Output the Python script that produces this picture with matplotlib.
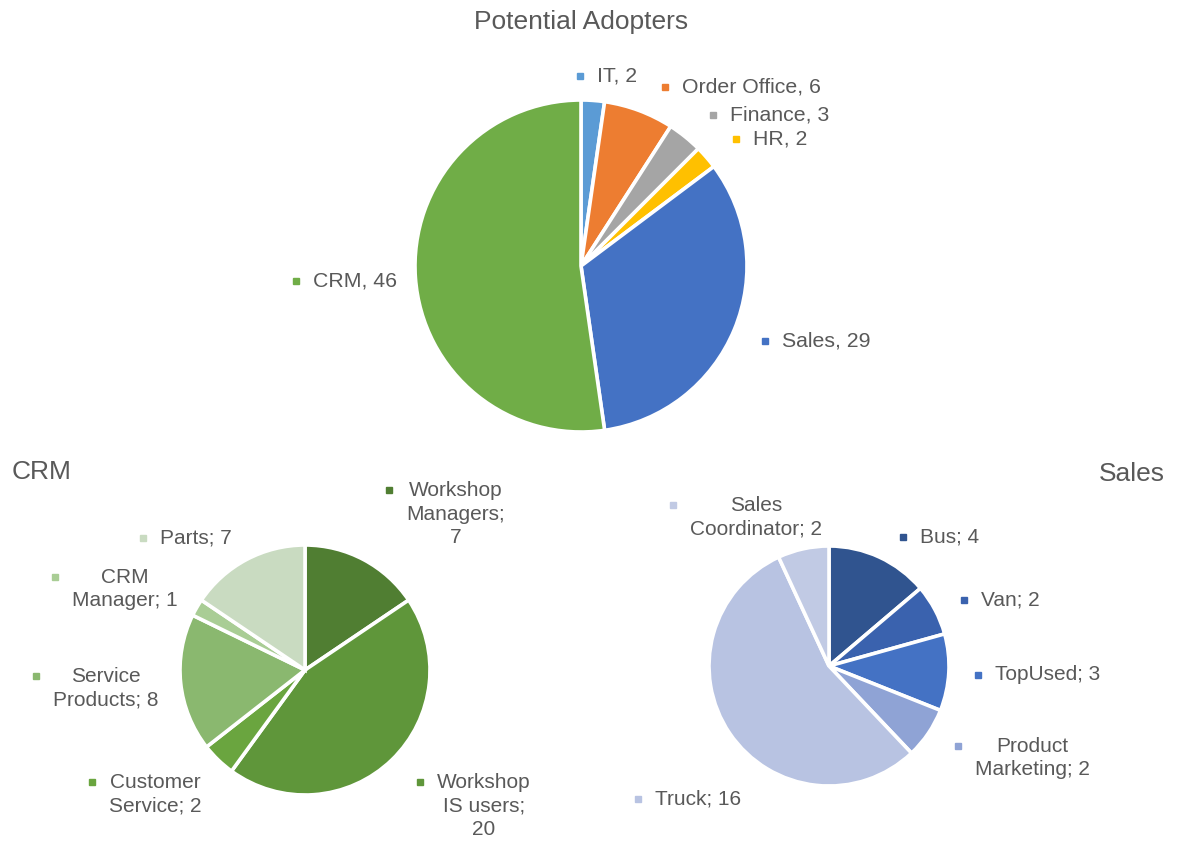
import matplotlib
matplotlib.use("Agg")
import matplotlib.pyplot as plt

plt.rcParams["font.family"] = ["Liberation Sans", "DejaVu Sans"]

# --- data -------------------------------------------------------------
adopter_labels = ["IT", "Order Office", "Finance", "HR", "Sales", "CRM"]
adopter_values = [2, 6, 3, 2, 29, 46]
adopter_colors = ["#5B9BD5", "#ED7D31", "#A5A5A5", "#FFC000", "#4472C4", "#70AD47"]

crm_labels = ["Workshop\nManagers;\n", "Workshop\nIS users;\n", "Customer\nService; ",
              "Service\nProducts; ", "CRM\nManager; ", "Parts; "]
crm_values = [7, 20, 2, 8, 1, 7]
crm_colors = ["#507E32", "#5F963A", "#6AA53F", "#8AB86F", "#A9CD95", "#C9DBC1"]

sales_labels = ["Bus; ", "Van; ", "TopUsed; ", "Product\nMarketing; ", "Truck; ",
                "Sales\nCoordinator; "]
sales_values = [4, 2, 3, 2, 16, 2]
sales_colors = ["#30548F", "#3A62AE", "#4472C4", "#8FA3D5", "#B8C3E2", "#C1CAE4"]

TEXT = "#595959"
W, H = 1179, 842
LINE_PX = 24

fig = plt.figure(figsize=(W / 100, H / 100), dpi=100)
ax = fig.add_axes([0, 0, 1, 1])


def py(y):
    """Convert a top-down pixel row into the upward axis coordinate."""
    return H - y


def draw_pie(values, colors, cx, cy, r):
    ax.pie(values, colors=colors, center=(cx, py(cy)), radius=r,
           startangle=90, counterclock=False,
           wedgeprops=dict(edgecolor="white", linewidth=2.6))


def label(s, x, y, color, size):
    """Text block whose left edge is x and vertical centre is y, with a
    small colour square beside its first line."""
    n = s.count("\n") + 1
    spacing = LINE_PX / (0.898 * size * 100 / 72)
    ax.text(x, py(y), s, ha="left", va="center", multialignment="center",
            fontsize=size, color=TEXT, linespacing=spacing)
    first = y - (n - 1) / 2 * LINE_PX
    ax.plot([x - 17], [py(first)], marker="s", markersize=4.6,
            color=color, linestyle="none")


# --- top pie ----------------------------------------------------------
draw_pie(adopter_values, adopter_colors, 581, 266, 166)
ax.text(581, py(22), "Potential Adopters", ha="center", va="center",
        fontsize=19, color=TEXT)
top_pos = [(597, 76), (682, 87), (730, 115), (753, 139), (782, 341), (313, 281)]
for lab, v, c, (x, y) in zip(adopter_labels, adopter_values, adopter_colors, top_pos):
    label(f"{lab}, {v}", x, y, c, 15.3)

# --- CRM pie ----------------------------------------------------------
draw_pie(crm_values, crm_colors, 305, 670, 125)
ax.text(12, py(472), "CRM", ha="left", va="center", fontsize=19, color=TEXT)
crm_pos = [(406, 514), (437, 806), (109, 794), (53, 688), (72, 589), (160, 538)]
for lab, v, c, (x, y) in zip(crm_labels, crm_values, crm_colors, crm_pos):
    label(f"{lab}{v}", x, y, c, 15)

# --- Sales pie --------------------------------------------------------
draw_pie(sales_values, sales_colors, 829, 666, 120)
ax.text(1165, py(474), "Sales", ha="right", va="center", fontsize=19, color=TEXT)
sales_pos = [(920, 537), (981, 600), (995, 675), (975, 758), (655, 799), (690, 517)]
for lab, v, c, (x, y) in zip(sales_labels, sales_values, sales_colors, sales_pos):
    label(f"{lab}{v}", x, y, c, 15)

ax.set_xlim(0, W)
ax.set_ylim(0, H)
ax.set_aspect("equal")
ax.set_axis_off()

fig.savefig("out.png", dpi=100, facecolor="white")
